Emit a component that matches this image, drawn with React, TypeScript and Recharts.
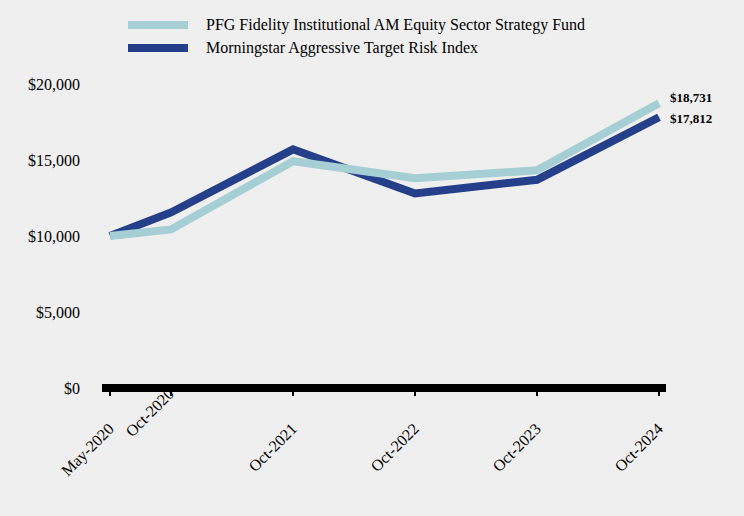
import { LineChart, Line, XAxis, YAxis, Legend } from 'recharts';

const periodLabels = ['May-2020', 'Oct-2020', 'Oct-2021', 'Oct-2022', 'Oct-2023', 'Oct-2024'];
const monthsFromStart = [0, 6, 18, 30, 42, 54];
const fundValues = [10000, 10430, 14920, 13800, 14320, 18731];
const indexValues = [10000, 11550, 15700, 12800, 13700, 17812];
const yTicks = [0, 5000, 10000, 15000, 20000];

const fundName = 'PFG Fidelity Institutional AM Equity Sector Strategy Fund';
const indexName = 'Morningstar Aggressive Target Risk Index';
const fundColor = '#a6cfd5';
const indexColor = '#263f8b';

const data = monthsFromStart.map((m, i) => ({
  m,
  fund: fundValues[i],
  index: indexValues[i],
}));

const money = (v: number) => '$' + v.toLocaleString('en-US');
const font = '"Liberation Serif", "Times New Roman", serif';

const legendItems = [
  { name: fundName, color: fundColor },
  { name: indexName, color: indexColor },
];

const renderLegend = () => (
  <div style={{ fontFamily: font, fontSize: 16, color: '#000' }}>
    {legendItems.map((item) => (
      <div key={item.name} style={{ display: 'flex', alignItems: 'center', height: 23 }}>
        <div style={{ width: 60, height: 8, background: item.color, marginRight: 18 }} />
        <span>{item.name}</span>
      </div>
    ))}
  </div>
);

const endLabel = (dy: number) => (props: any) => {
  const { x, y, value, index } = props;
  if (index !== monthsFromStart.length - 1) return null;
  return (
    <text
      x={x + 11}
      y={y + dy}
      dominantBaseline="central"
      fontFamily={font}
      fontSize={13}
      fontWeight="bold"
      fill="#000"
    >
      {money(value)}
    </text>
  );
};

const XTick = (props: any) => {
  const { x, y, payload } = props;
  const i = monthsFromStart.indexOf(payload.value);
  // the second label sits higher, tucked up against the axis
  const shift = i === 1 ? { dx: -4, dy: -11 } : { dx: -3, dy: 24 };
  return (
    <g transform={`translate(${x + shift.dx},${y + shift.dy})`}>
      <text
        transform="rotate(-45)"
        textAnchor="end"
        dy="0.7em"
        fontFamily={font}
        fontSize={16}
        fill="#000"
      >
        {periodLabels[i]}
      </text>
    </g>
  );
};

export default function App() {
  return (
    <div style={{ position: 'absolute', left: 0, top: 0, width: 744, height: 516, background: '#efefef' }}>
      <LineChart width={744} height={516} data={data} margin={{ top: 84, right: 78, bottom: 28, left: 2 }}>
        <XAxis
          dataKey="m"
          type="number"
          domain={[0, 54]}
          ticks={monthsFromStart}
          padding={{ left: 8, right: 7 }}
          axisLine={{ stroke: '#000', strokeWidth: 8 }}
          tickLine={{ stroke: '#000', strokeWidth: 2 }}
          tickSize={8}
          tick={<XTick />}
          height={100}
          interval={0}
        />
        <YAxis
          domain={[0, 20000]}
          ticks={yTicks}
          tickFormatter={money}
          axisLine={false}
          tickLine={false}
          tickMargin={16}
          width={100}
          tick={{ fontFamily: font, fontSize: 16, fill: '#000' }}
        />
        <Legend
          layout="vertical"
          align="center"
          verticalAlign="middle"
          wrapperStyle={{ top: 13, left: 128, width: 'auto' }}
          content={renderLegend}
        />
        <Line
          dataKey="index"
          name={indexName}
          stroke={indexColor}
          strokeWidth={8}
          dot={false}
          isAnimationActive={false}
          strokeLinejoin="miter"
          label={endLabel(1)}
        />
        <Line
          dataKey="fund"
          name={fundName}
          stroke={fundColor}
          strokeWidth={8}
          dot={false}
          isAnimationActive={false}
          strokeLinejoin="miter"
          label={endLabel(-6)}
        />
      </LineChart>
    </div>
  );
}
